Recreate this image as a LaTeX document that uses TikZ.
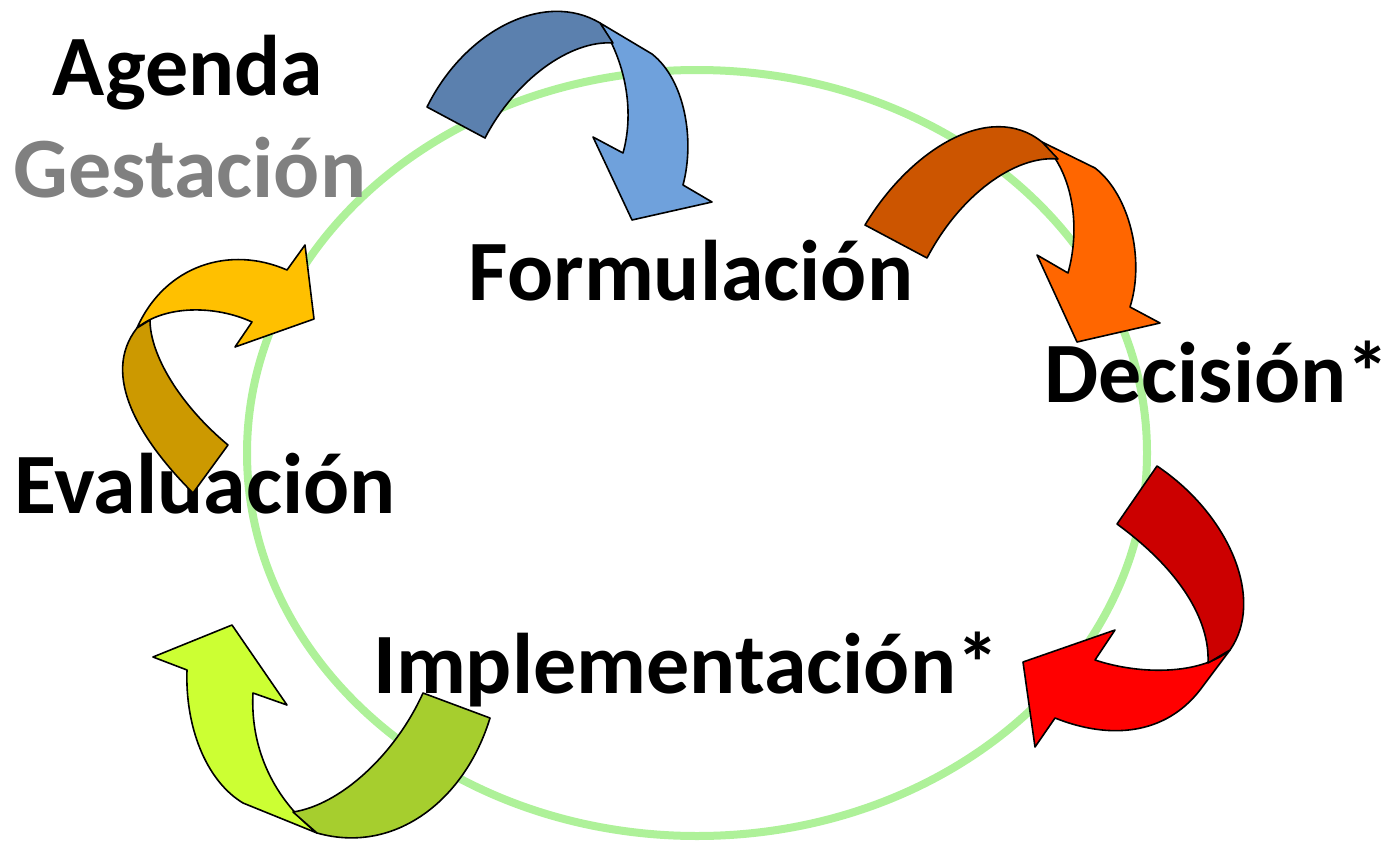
\documentclass[tikz,border=0pt]{standalone}
\usepackage{fontspec}
\setmainfont{Carlito}
\definecolor{bldark}{HTML}{5B80AE}
\definecolor{bllight}{HTML}{6FA1DC}
\definecolor{ordark}{HTML}{CC5500}
\definecolor{orlight}{HTML}{FF6600}
\definecolor{rddark}{HTML}{CC0000}
\definecolor{rdlight}{HTML}{FF0000}
\definecolor{grdark}{HTML}{A6CE2E}
\definecolor{grlight}{HTML}{CCFF33}
\definecolor{yedark}{HTML}{CC9900}
\definecolor{yelight}{HTML}{FFC000}
\definecolor{ring}{HTML}{9AEE80}
\definecolor{graytxt}{HTML}{808080}
\tikzset{
  arrowpart/.style={draw=black, line width=1.6pt, line join=round},
  label/.style={font=\fontsize{86}{100}\selectfont\bfseries, inner sep=0pt, anchor=base},
}
\begin{document}
\begin{tikzpicture}[x=1pt,y=-1pt]
\useasboundingbox (0,0) rectangle (1399,843);
% ring
\draw[ring, line width=8pt, opacity=0.8] (697,453) ellipse [x radius=450, y radius=383];
% labels
\node[label] (agenda) at (188,95) {Agenda};
\node[label, text=graytxt] (gest) at (190,197) {Gestación};
\node[label] (form) at (691,300) {Formulación};
\node[label] (dec) at (1217,402) {Decisión*};
\node[label] (eval) at (205,513) {Evaluación};
\node[label] (impl) at (686,693) {Implementación*};
% blue arrow
\filldraw[arrowpart, fill=bllight] (600,23) -- (652,54) .. controls (685,80) and (695,140) .. (683,185) -- (712,202) -- (632,220) -- (593,137) -- (623,153) .. controls (635,110) and (625,60) .. (600,23) -- cycle;
\filldraw[arrowpart, fill=bldark] (427,107) .. controls (465,30) and (545,-10) .. (600,23) -- (613,43) .. controls (570,40) and (515,80) .. (485,138) -- cycle;
% orange arrow
\filldraw[arrowpart, fill=orlight] (1042,142) -- (1095,168) .. controls (1130,195) and (1145,260) .. (1130,307) -- (1160,323) -- (1077,342) -- (1037,255) -- (1068,273) .. controls (1080,230) and (1075,175) .. (1042,142) -- cycle;
\filldraw[arrowpart, fill=ordark] (865,225) .. controls (910,150) and (990,100) .. (1042,142) -- (1058,159) .. controls (1015,155) and (960,195) .. (927,258) -- cycle;
% red arrow
\filldraw[arrowpart, fill=rdlight] (1230,650) -- (1200,690) .. controls (1165,735) and (1110,740) .. (1055,718) -- (1035,747) -- (1023,662) -- (1115,630) -- (1095,660) .. controls (1140,675) and (1200,675) .. (1230,650) -- cycle;
\filldraw[arrowpart, fill=rddark] (1157,466) .. controls (1230,515) and (1265,600) .. (1230,650) -- (1208,663) .. controls (1210,620) and (1180,570) .. (1117,524) -- cycle;
% green arrow
\filldraw[arrowpart, fill=grlight] (317,833) -- (243,803) .. controls (205,780) and (185,725) .. (187,670) -- (153,657) -- (232,625) -- (287,705) -- (253,693) .. controls (250,750) and (275,800) .. (317,833) -- cycle;
\filldraw[arrowpart, fill=grdark] (490,718) .. controls (465,800) and (395,855) .. (317,833) -- (293,812) .. controls (340,805) and (395,755) .. (423,693) -- cycle;
% yellow arrow
\filldraw[arrowpart, fill=yelight] (137,328) .. controls (165,265) and (230,245) .. (287,270) -- (305,245) -- (314,319) -- (235,347) -- (252,322) .. controls (215,305) and (165,305) .. (137,328) -- cycle;
\filldraw[arrowpart, fill=yedark] (193,493) .. controls (140,440) and (100,375) .. (137,328) -- (150,320) .. controls (150,355) and (180,405) .. (228,445) -- cycle;
\end{tikzpicture}
\end{document}
